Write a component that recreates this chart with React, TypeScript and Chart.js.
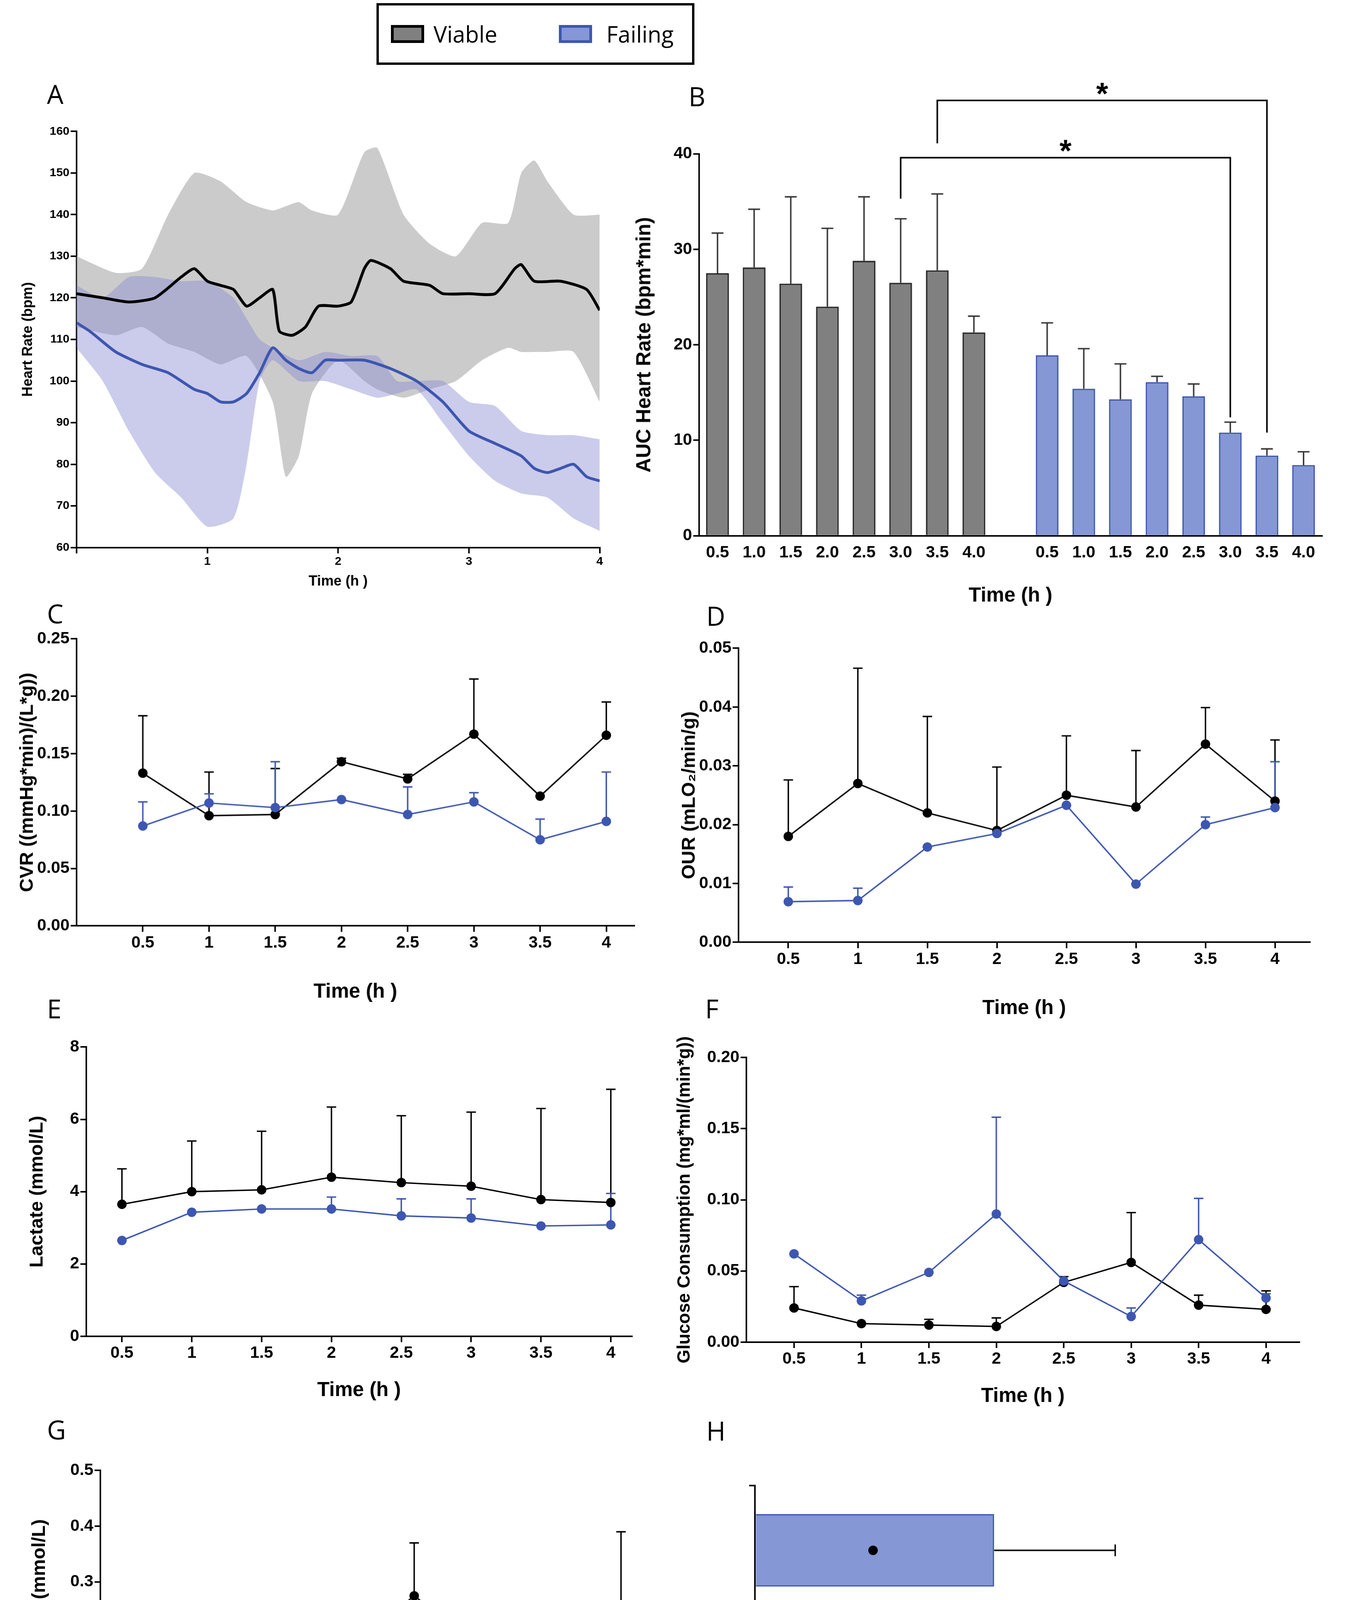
import React, { useEffect, useRef } from "react";
import { Chart, registerables } from "chart.js";
Chart.register(...registerables);

const S = 3513 / 1157;
const FONT = "Liberation Sans";
const BLACK = "#000000";
const BLUE = "#3d56b0";
const BLUE_FILL = "#8597d4";
const GREY = "#808080";

// ---------- Panel A data ----------
const viableMeanT = [0, 0.2, 0.4, 0.6, 0.8, 0.9, 1.0, 1.1, 1.2, 1.3, 1.4, 1.5, 1.55, 1.65, 1.75, 1.85, 2.0, 2.1, 2.2, 2.25, 2.4, 2.5, 2.7, 2.8, 3.0, 3.2, 3.35, 3.4, 3.5, 3.7, 3.9, 4.0];
const viableMean = [121, 120, 119, 120, 125, 127, 124, 123, 122, 118, 120, 122, 112, 111, 113, 118, 118, 119, 127, 129, 127, 124, 123, 121, 121, 121, 127, 128, 124, 124, 122, 117];
const viableBandT = [0, 0.3, 0.5, 0.7, 0.9, 1.1, 1.3, 1.5, 1.6, 1.7, 1.8, 2.0, 2.2, 2.3, 2.5, 2.7, 2.9, 3.1, 3.3, 3.4, 3.5, 3.6, 3.8, 4.0];
const viableUpper = [130, 126, 127, 140, 150, 148, 143, 141, 142, 143, 141, 140, 155, 156, 140, 133, 130, 138, 138, 150, 153, 148, 140, 140];
const viableLower = [113, 111, 113, 109, 107, 104, 106, 95, 77, 82, 97, 105, 100, 98, 96, 98, 100, 105, 108, 107, 107, 107, 107, 95];
const failingMeanT = [0, 0.1, 0.3, 0.5, 0.7, 0.9, 1.0, 1.1, 1.2, 1.3, 1.4, 1.5, 1.6, 1.7, 1.8, 1.9, 2.0, 2.2, 2.4, 2.6, 2.8, 3.0, 3.2, 3.4, 3.5, 3.6, 3.7, 3.8, 3.9, 4.0];
const failingMean = [114, 112, 107, 104, 102, 98, 97, 95, 95, 97, 102, 108, 105, 103, 102, 105, 105, 105, 103, 100, 95, 88, 85, 82, 79, 78, 79, 80, 77, 76];
const failingBandT = [0, 0.2, 0.4, 0.6, 0.8, 1.0, 1.2, 1.3, 1.4, 1.5, 1.7, 1.9, 2.1, 2.3, 2.45, 2.6, 2.8, 3.0, 3.2, 3.4, 3.6, 3.8, 4.0];
const failingUpper = [123, 120, 125, 125, 124, 124, 120, 115, 110, 108, 105, 107, 106, 106, 100, 100, 100, 95, 94, 88, 87, 87, 86];
const failingLower = [108, 100, 88, 78, 72, 65, 67, 80, 100, 105, 100, 100, 98, 96, 97, 98, 90, 82, 76, 73, 72, 67, 64];

// ---------- Panel B data ----------
const aucLabels = ["0.5", "1.0", "1.5", "2.0", "2.5", "3.0", "3.5", "4.0"];
const viableAUC = [27.5, 28.1, 26.4, 24.0, 28.8, 26.5, 27.8, 21.3];
const viableAUCUp = [31.7, 34.2, 35.5, 32.2, 35.5, 33.2, 35.8, 23.0];
const failingAUC = [18.9, 15.4, 14.3, 16.1, 14.6, 10.8, 8.4, 7.4];
const failingAUCUp = [22.3, 19.6, 18.0, 16.7, 15.9, 11.9, 9.1, 8.8];
const bracketPairs = [[5, 14], [6, 15]];
const bracketStart = [35.3, 41.1];
const bracketLevel = [39.6, 45.6];
const bracketEnd = [12.4, 10.8];

// ---------- Panels C-G ----------
const times = [0.5, 1, 1.5, 2, 2.5, 3, 3.5, 4];
const cvrViable = [0.133, 0.096, 0.097, 0.143, 0.128, 0.167, 0.113, 0.166];
const cvrViableUp = [0.183, 0.134, 0.137, 0.146, 0.132, 0.215, 0.113, 0.195];
const cvrFailing = [0.087, 0.107, 0.103, 0.110, 0.097, 0.108, 0.075, 0.091];
const cvrFailingUp = [0.108, 0.115, 0.143, 0.110, 0.121, 0.116, 0.093, 0.134];
const ourViable = [0.018, 0.027, 0.022, 0.019, 0.025, 0.023, 0.0337, 0.024];
const ourViableUp = [0.0276, 0.0466, 0.0384, 0.0298, 0.0351, 0.0326, 0.0399, 0.0344];
const ourFailing = [0.0069, 0.0071, 0.0162, 0.0185, 0.0233, 0.0099, 0.02, 0.0229];
const ourFailingUp = [0.0094, 0.0092, 0.0162, 0.0185, 0.0233, 0.0099, 0.0213, 0.0307];
const lacViable = [3.65, 4.0, 4.05, 4.4, 4.25, 4.15, 3.78, 3.7];
const lacViableUp = [4.63, 5.4, 5.67, 6.34, 6.1, 6.2, 6.3, 6.83];
const lacFailing = [2.65, 3.43, 3.52, 3.52, 3.33, 3.27, 3.05, 3.08];
const lacFailingUp = [2.65, 3.43, 3.52, 3.85, 3.8, 3.8, 3.05, 3.95];
const gluViable = [0.024, 0.013, 0.012, 0.011, 0.042, 0.056, 0.026, 0.023];
const gluViableUp = [0.039, 0.013, 0.016, 0.017, 0.046, 0.091, 0.033, 0.036];
const gluFailing = [0.062, 0.029, 0.049, 0.09, 0.043, 0.018, 0.072, 0.031];
const gluFailingUp = [0.062, 0.033, 0.049, 0.158, 0.043, 0.024, 0.101, 0.034];
const kViable = [0.08, 0.17, 0.17, 0.175, 0.275, 0.18, 0.205, 0.24];
const kViableUp = [0.09, 0.2, 0.18, 0.2, 0.37, 0.185, 0.205, 0.39];
const kFailing = [0.115, 0.145, 0.04, 0.08, 0.1, 0.115, 0.07, 0.115];
const kFailingUp = [0.13, 0.22, 0.06, 0.11, 0.11, 0.14, 0.13, 0.18];

// ---------- Panel H ----------
const groupLabels = ["Failing", "Viable"];
const weightGain = [38.5, 47];
const weightGainUp = [58, 62];
const weightPoint = [19, 32];

type Box = { l: number; t: number; r: number; b: number };

function fitW(w: number) { return (s: any) => { s.width = w * S; }; }
function fitH(h: number) { return (s: any) => { s.height = h * S; }; }

function axisBase(size: number, bold = true) {
  return {
    border: { display: true, color: BLACK, width: 1.3 * S },
    grid: { display: true, drawOnChartArea: false, color: BLACK, lineWidth: 1.3 * S, tickLength: 5 * S },
    ticks: { color: BLACK, font: { family: FONT, size: size * S, weight: bold ? "bold" : "normal" } },
  };
}
function title(text: string, size: number) {
  return { display: true, text, color: BLACK, font: { family: FONT, size: size * S, weight: "bold" }, padding: 4 * S };
}

function errPlugin(sets: { ds: number; up: (number | null)[]; color: string; horizontal?: boolean }[], cap: number) {
  return {
    id: "err",
    beforeDatasetsDraw(chart: any) {
      const ctx = chart.ctx;
      ctx.save();
      ctx.lineWidth = 1.2 * S;
      for (const set of sets) {
        const meta = chart.getDatasetMeta(set.ds);
        ctx.strokeStyle = set.color;
        meta.data.forEach((el: any, i: number) => {
          const u = set.up[i];
          if (u == null) return;
          ctx.beginPath();
          if (set.horizontal) {
            const x = chart.scales.x.getPixelForValue(u);
            ctx.moveTo(el.x, el.y); ctx.lineTo(x, el.y);
            ctx.moveTo(x, el.y - cap * S); ctx.lineTo(x, el.y + cap * S);
          } else {
            const y = chart.scales.y.getPixelForValue(u);
            ctx.moveTo(el.x, el.y); ctx.lineTo(el.x, y);
            ctx.moveTo(el.x - cap * S, y); ctx.lineTo(el.x + cap * S, y);
          }
          ctx.stroke();
        });
      }
      ctx.restore();
    },
  };
}

function ChartBox({ plot, axL, axB, padT, padR, make }: { plot: Box; axL: number; axB: number; padT: number; padR: number; make: () => any }) {
  const ref = useRef<HTMLCanvasElement>(null);
  const w = (plot.r - plot.l + axL + padR) * S;
  const h = (plot.b - plot.t + padT + axB) * S;
  useEffect(() => {
    const cfg = make();
    cfg.options = cfg.options || {};
    cfg.options.animation = false;
    cfg.options.responsive = false;
    cfg.options.devicePixelRatio = 1;
    cfg.options.layout = { padding: { top: padT * S, right: padR * S, left: 0, bottom: 0 } };
    cfg.options.plugins = { ...(cfg.options.plugins || {}), legend: { display: false }, tooltip: { enabled: false } };
    const c = new Chart(ref.current as HTMLCanvasElement, cfg);
    return () => c.destroy();
  }, []);
  return (
    <canvas ref={ref} width={w} height={h}
      style={{ position: "absolute", left: (plot.l - axL) * S, top: (plot.t - padT) * S, width: w, height: h }} />
  );
}

function pts(xs: number[], ys: number[]) { return xs.map((x, i) => ({ x, y: ys[i] })); }

function panelA() {
  return {
    type: "line",
    data: {
      datasets: [
        { order: 2, data: pts(viableBandT, viableUpper), borderWidth: 0, pointRadius: 0, fill: false, tension: 0.2 },
        { order: 2, data: pts(viableBandT, viableLower), borderWidth: 0, pointRadius: 0, fill: "-1", backgroundColor: "rgba(175,175,175,0.65)", tension: 0.2 },
        { order: 1, data: pts(failingBandT, failingUpper), borderWidth: 0, pointRadius: 0, fill: false, tension: 0.2 },
        { order: 1, data: pts(failingBandT, failingLower), borderWidth: 0, pointRadius: 0, fill: "-1", backgroundColor: "rgba(140,140,210,0.45)", tension: 0.2 },
        { order: 0, data: pts(viableMeanT, viableMean), borderColor: "#000", borderWidth: 2.4 * S, pointRadius: 0, fill: false, tension: 0.2 },
        { order: 0, data: pts(failingMeanT, failingMean), borderColor: BLUE, borderWidth: 2.4 * S, pointRadius: 0, fill: false, tension: 0.2 },
      ],
    },
    options: {
      scales: {
        x: { type: "linear", min: 0, max: 4, ...axisBase(10), afterFit: fitH(40),
          ticks: { ...axisBase(10).ticks, stepSize: 1, callback: (v: number) => (v === 0 ? "" : String(v)) },
          title: title("Time (h )", 12) },
        y: { min: 60, max: 160, ...axisBase(10), afterFit: fitW(52),
          ticks: { ...axisBase(10).ticks, stepSize: 10 }, title: title("Heart Rate (bpm)", 12) },
      },
    },
  };
}

function panelB() {
  const labels = [...aucLabels, "", ...aucLabels];
  const values = [...viableAUC, null, ...failingAUC];
  const ups = [...viableAUCUp, null, ...failingAUCUp];
  const bg = labels.map((_, i) => (i < 8 ? GREY : BLUE_FILL));
  const bd = labels.map((_, i) => (i < 8 ? "#222" : BLUE));
  const bracket = {
    id: "bracket",
    afterDraw(chart: any) {
      const ctx = chart.ctx, x = chart.scales.x, y = chart.scales.y;
      ctx.save();
      ctx.strokeStyle = BLACK; ctx.lineWidth = 1.3 * S; ctx.fillStyle = BLACK;
      bracketPairs.forEach(([a, b], k) => {
        const xa = x.getPixelForValue(a), xb = x.getPixelForValue(b);
        const ys = y.getPixelForValue(bracketStart[k]), yl = y.getPixelForValue(bracketLevel[k]), ye = y.getPixelForValue(bracketEnd[k]);
        ctx.beginPath(); ctx.moveTo(xa, ys); ctx.lineTo(xa, yl); ctx.lineTo(xb, yl); ctx.lineTo(xb, ye); ctx.stroke();
        ctx.font = `bold ${26 * S}px ${FONT}`; ctx.textAlign = "center"; ctx.textBaseline = "middle";
        ctx.fillText("*", (xa + xb) / 2, yl - 4 * S);
      });
      ctx.restore();
    },
  };
  return {
    type: "bar",
    data: { labels, datasets: [{ data: values, backgroundColor: bg, borderColor: bd, borderWidth: 1.2 * S, barPercentage: 0.62, categoryPercentage: 1 }] },
    options: {
      scales: {
        x: { ...axisBase(14), grid: { ...axisBase(14).grid, display: false }, afterFit: fitH(65),
          ticks: { ...axisBase(14).ticks, autoSkip: false, maxRotation: 0 }, title: title("Time (h )", 17) },
        y: { min: 0, max: 40, ...axisBase(14), afterFit: fitW(60), ticks: { ...axisBase(14).ticks, stepSize: 10 },
          title: title("AUC Heart Rate (bpm*min)", 17) },
      },
    },
    plugins: [errPlugin([{ ds: 0, up: ups, color: "#333" }], 5), bracket],
  };
}

function linePanel(v: number[], vu: number[], f: number[], fu: number[], xmin: number, xmax: number, ymax: number, step: number, dec: number, ytitle: string, axL: number, axB: number, tsize = 16) {
  return () => ({
    type: "line",
    data: {
      datasets: [
        { data: pts(times, f), borderColor: BLUE, backgroundColor: BLUE, borderWidth: 1.2 * S, pointRadius: 4 * S, pointBorderWidth: 0 },
        { data: pts(times, v), borderColor: BLACK, backgroundColor: BLACK, borderWidth: 1.2 * S, pointRadius: 4 * S, pointBorderWidth: 0 },
      ],
    },
    options: {
      scales: {
        x: { type: "linear", min: xmin, max: xmax, ...axisBase(14), afterFit: fitH(axB),
          afterBuildTicks: (s: any) => { s.ticks = times.map((t) => ({ value: t })); },
          ticks: { ...axisBase(14).ticks, callback: (t: number) => String(t) },
          title: title("Time (h )", 17) },
        y: { min: 0, max: ymax, ...axisBase(14), afterFit: fitW(axL),
          ticks: { ...axisBase(14).ticks, stepSize: step, callback: (t: number) => t.toFixed(dec) },
          title: title(ytitle, tsize) },
      },
    },
    plugins: [errPlugin([{ ds: 1, up: vu, color: BLACK }, { ds: 0, up: fu, color: BLUE }], 4)],
  });
}

function panelH() {
  const dots = {
    id: "dots",
    afterDatasetsDraw(chart: any) {
      const ctx = chart.ctx, x = chart.scales.x, y = chart.scales.y;
      ctx.save(); ctx.fillStyle = BLACK;
      weightPoint.forEach((p, i) => { ctx.beginPath(); ctx.arc(x.getPixelForValue(p), y.getPixelForValue(i), 4 * S, 0, Math.PI * 2); ctx.fill(); });
      ctx.restore();
    },
  };
  return {
    type: "bar",
    data: { labels: groupLabels, datasets: [{ data: weightGain, backgroundColor: [BLUE_FILL, GREY], borderColor: [BLUE, "#222"], borderWidth: 1.2 * S, barPercentage: 0.56, categoryPercentage: 1 }] },
    options: {
      indexAxis: "y",
      scales: {
        x: { min: 0, max: 80, ...axisBase(12, false), afterFit: fitH(70),
          ticks: { ...axisBase(12, false).ticks, stepSize: 10, callback: (t: number) => (t % 20 === 0 ? String(t) : "") },
          title: title("Weight Gain (%)", 16) },
        y: { ...axisBase(12), afterFit: fitW(10), ticks: { ...axisBase(12).ticks, callback: () => "" } },
      },
    },
    plugins: [errPlugin([{ ds: 0, up: weightGainUp, color: BLACK, horizontal: true }], 5), dots],
  };
}

const letters: [string, number, number][] = [["A", 37, 66], ["B", 578, 68], ["C", 37, 504], ["D", 593, 506], ["E", 37, 837], ["F", 592, 837], ["G", 37, 1192], ["H", 593, 1193]];

export default function App() {
  return (
    <div style={{ position: "relative", width: 3497, height: 4757, background: "#fff", fontFamily: FONT }}>
      <div style={{ position: "absolute", left: 315 * S, top: 0, width: 268 * S, height: 52 * S, border: `${2 * S}px solid #000`, boxSizing: "border-box",
        display: "flex", alignItems: "center", fontSize: 19 * S, fontFamily: "Open Sans" }}>
        <span style={{ display: "inline-block", width: 28 * S, height: 15 * S, background: GREY, border: `${2.5 * S}px solid #000`, marginLeft: 10 * S, boxSizing: "border-box" }} />
        <span style={{ marginLeft: 8 * S }}>Viable</span>
        <span style={{ display: "inline-block", width: 28 * S, height: 15 * S, background: BLUE_FILL, border: `${2.5 * S}px solid ${BLUE}`, marginLeft: 52 * S, boxSizing: "border-box" }} />
        <span style={{ marginLeft: 12 * S }}>Failing</span>
      </div>
      {letters.map(([t, x, y]) => (
        <div key={t} style={{ position: "absolute", left: x * S, top: y * S, fontSize: 22 * S, fontFamily: "Open Sans", lineHeight: 1 }}>{t}</div>
      ))}
      <ChartBox plot={{ l: 62, t: 108, r: 503, b: 459 }} axL={52} axB={40} padT={10} padR={12} make={panelA} />
      <ChartBox plot={{ l: 587, t: 127, r: 1112, b: 449 }} axL={60} axB={65} padT={75} padR={10} make={panelB} />
      <ChartBox plot={{ l: 62, t: 536, r: 532, b: 778 }} axL={55} axB={70} padT={10} padR={10}
        make={linePanel(cvrViable, cvrViableUp, cvrFailing, cvrFailingUp, 0, 4.21, 0.25, 0.05, 2, "CVR ((mmHg*min)/(L*g))", 55, 70)} />
      <ChartBox plot={{ l: 620, t: 544, r: 1102, b: 792 }} axL={55} axB={70} padT={10} padR={10}
        make={linePanel(ourViable, ourViableUp, ourFailing, ourFailingUp, 0.142, 4.25, 0.05, 0.01, 2, "OUR (mLO₂/min/g)", 55, 70)} />
      <ChartBox plot={{ l: 70, t: 880, r: 530, b: 1124 }} axL={55} axB={60} padT={10} padR={10}
        make={linePanel(lacViable, lacViableUp, lacFailing, lacFailingUp, 0.245, 4.15, 8, 2, 0, "Lactate (mmol/L)", 55, 60)} />
      <ChartBox plot={{ l: 627, t: 889, r: 1093, b: 1129 }} axL={65} axB={60} padT={60} padR={10}
        make={linePanel(gluViable, gluViableUp, gluFailing, gluFailingUp, 0.148, 4.246, 0.2, 0.05, 2, "Glucose Consumption (mg*ml/(min*g))", 65, 60, 15)} />
      <ChartBox plot={{ l: 82, t: 1237, r: 540, b: 1472 }} axL={65} axB={60} padT={10} padR={10}
        make={linePanel(kViable, kViableUp, kFailing, kFailingUp, 0.225, 4.163, 0.5, 0.1, 1, "Potassium (mmol/L)", 65, 60)} />
      <ChartBox plot={{ l: 634, t: 1250, r: 1053, b: 1468 }} axL={10} axB={70} padT={10} padR={20} make={panelH} />
    </div>
  );
}
